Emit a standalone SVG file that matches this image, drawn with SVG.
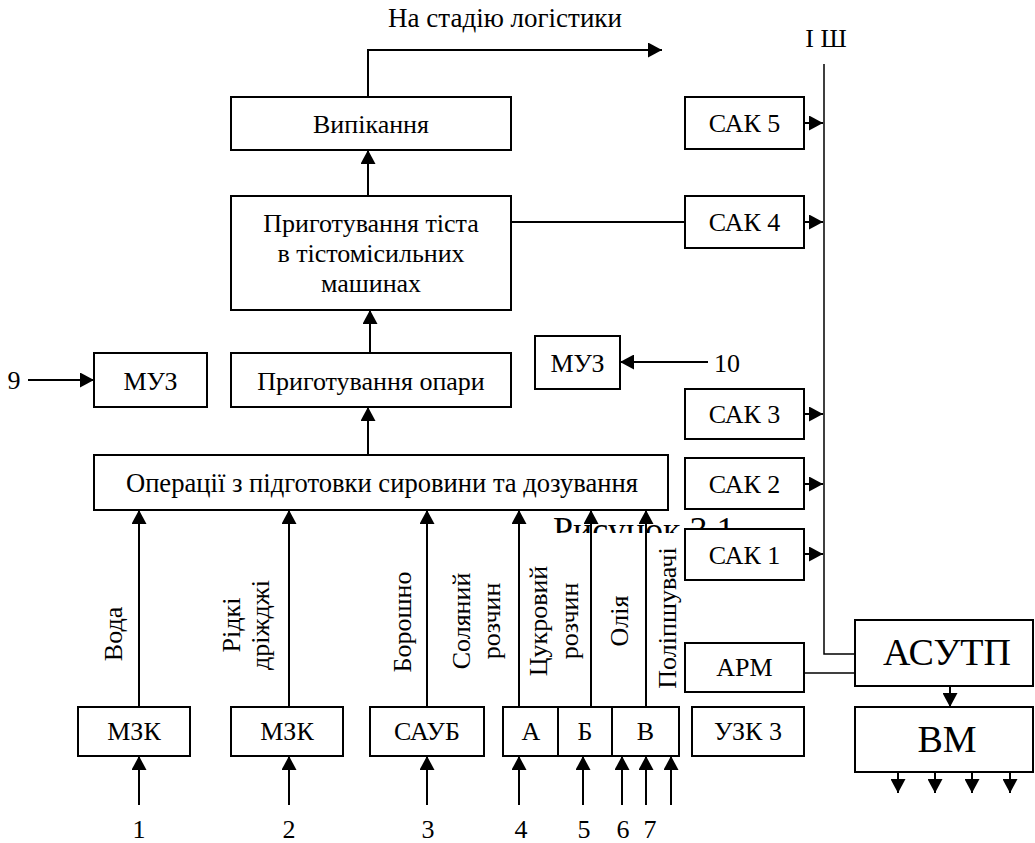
<svg xmlns="http://www.w3.org/2000/svg" width="1035" height="843" viewBox="0 0 1035 843" font-family="Liberation Serif, Times New Roman, serif">
<style>
.box{fill:#fff;stroke:#000;stroke-width:2}
.t{font-size:26px;fill:#000;text-anchor:middle}
.big{font-size:38px}
.ln{stroke:#000;stroke-width:2;fill:none}
.thin{stroke:#000;stroke-width:1.5;fill:none}
.ar{marker-end:url(#ah)}
</style>
<defs>
<marker id="ah" markerUnits="userSpaceOnUse" markerWidth="15" markerHeight="15" refX="14" refY="7.5" orient="auto">
<path d="M0,0 L14,7.5 L0,15 z" fill="#000"/>
</marker>
<clipPath id="cp"><rect x="0" y="0" width="1035" height="533"/></clipPath>
</defs>
<rect width="1035" height="843" fill="#fff"/>
<text class="t" font-family="Liberation Serif" style="font-size:36px;text-anchor:start" x="553" y="542" clip-path="url(#cp)">Рисунок 3.1</text>
<text class="t" font-family="Liberation Serif" style="font-size:27px" x="505" y="27">На стадію логістики</text>
<text class="t" font-family="Liberation Serif" x="826" y="47">І Ш</text>
<text class="t" font-family="Liberation Serif" x="14" y="389">9</text>
<text class="t" font-family="Liberation Serif" x="727" y="372">10</text>
<g id="numbers" font-family="Liberation Serif">
<text class="t" x="139" y="838">1</text>
<text class="t" x="289" y="838">2</text>
<text class="t" x="428" y="838">3</text>
<text class="t" x="521" y="838">4</text>
<text class="t" x="584" y="838">5</text>
<text class="t" x="623" y="838">6</text>
<text class="t" x="650" y="838">7</text>
</g>
<g id="flow-labels" font-family="Liberation Serif">
<text class="t" transform="translate(122,634) rotate(-90)">Вода</text>
<text class="t" transform="translate(240,625) rotate(-90)">Рідкі</text>
<text class="t" transform="translate(269,625) rotate(-90)">дріжджі</text>
<text class="t" transform="translate(411,622) rotate(-90)">Борошно</text>
<text class="t" transform="translate(470,621) rotate(-90)">Соляний</text>
<text class="t" transform="translate(500,621) rotate(-90)">розчин</text>
<text class="t" transform="translate(547,621) rotate(-90)">Цукровий</text>
<text class="t" transform="translate(578,621) rotate(-90)">розчин</text>
<text class="t" transform="translate(628,621) rotate(-90)">Олія</text>
<text class="t" transform="translate(676,618) rotate(-90)">Поліпшувачі</text>
</g>
<g id="connectors">
<path class="ln ar" d="M368,97 V50 H662"/>
<path class="ln ar" d="M368,196 V150"/>
<path class="ln ar" d="M370,353 V310"/>
<path class="ln ar" d="M368,455 V407"/>
<path class="ln" d="M511,222 H685"/>
<path class="ln ar" d="M28,380 H94"/>
<path class="ln ar" d="M708,362 H620"/>
<path class="ln ar" d="M139,707 V510"/>
<path class="ln ar" d="M289,707 V510"/>
<path class="ln ar" d="M427,707 V510"/>
<path class="ln ar" d="M519,707 V510"/>
<path class="ln ar" d="M591,707 V510"/>
<path class="ln ar" d="M646,707 V510"/>
<path class="ln ar" d="M139,805 V756"/>
<path class="ln ar" d="M289,805 V756"/>
<path class="ln ar" d="M427,805 V756"/>
<path class="ln ar" d="M519,805 V756"/>
<path class="ln ar" d="M583,805 V756"/>
<path class="ln ar" d="M622,805 V756"/>
<path class="ln ar" d="M646,805 V756"/>
<path class="ln ar" d="M671,805 V756"/>
<path class="ln ar" d="M804,123 H823"/>
<path class="ln ar" d="M804,222 H823"/>
<path class="ln ar" d="M804,414 H823"/>
<path class="ln ar" d="M804,484 H823"/>
<path class="ln ar" d="M804,554 H823"/>
<path class="thin" d="M824,64 V654 H855"/>
<path class="thin" d="M804,673 H855"/>
<path class="ln ar" d="M950,686 V707"/>
<path class="ln ar" d="M898,772 V793"/>
<path class="ln ar" d="M935,772 V793"/>
<path class="ln ar" d="M972,772 V793"/>
<path class="ln ar" d="M1010,772 V793"/>
</g>
<g id="nodes" font-family="Liberation Serif">
<g id="vypikannia"><rect class="box" x="231" y="97" width="280" height="53"/><text class="t" x="371" y="133">Випікання</text></g>
<g id="tisto"><rect class="box" x="231" y="196" width="280" height="114"/><text class="t" x="371" y="232">Приготування тіста</text><text class="t" x="371" y="262">в тістомісильних</text><text class="t" x="371" y="292">машинах</text></g>
<g id="opara"><rect class="box" x="231" y="353" width="280" height="54"/><text class="t" x="371" y="390">Приготування опари</text></g>
<g id="muz1"><rect class="box" x="94" y="353" width="113" height="54"/><text class="t" x="150.5" y="390">МУЗ</text></g>
<g id="muz2"><rect class="box" x="535" y="336" width="85" height="53"/><text class="t" x="577.5" y="372">МУЗ</text></g>
<g id="operacii"><rect class="box" x="94" y="455" width="574" height="55"/><text class="t" style="font-size:26.6px" x="382" y="492">Операції з підготовки сировини та дозування</text></g>
<g id="sak5"><rect class="box" x="685" y="97" width="119" height="52"/><text class="t" x="744.5" y="132">САК 5</text></g>
<g id="sak4"><rect class="box" x="685" y="196" width="119" height="52"/><text class="t" x="744.5" y="231">САК 4</text></g>
<g id="sak3"><rect class="box" x="685" y="389" width="119" height="50"/><text class="t" x="744.5" y="423">САК 3</text></g>
<g id="sak2"><rect class="box" x="685" y="458" width="119" height="51"/><text class="t" x="744.5" y="493">САК 2</text></g>
<g id="sak1"><rect class="box" x="685" y="529" width="119" height="51"/><text class="t" x="744.5" y="564">САК 1</text></g>
<g id="arm"><rect class="box" x="685" y="643" width="119" height="49"/><text class="t" x="744.5" y="676">АРМ</text></g>
<g id="asutp"><rect class="box" x="855" y="620" width="178" height="66"/><text class="t big" x="947" y="665">АСУТП</text></g>
<g id="vm"><rect class="box" x="855" y="707" width="178" height="65"/><text class="t big" x="947" y="752">ВМ</text></g>
<g id="mzk1"><rect class="box" x="78" y="707" width="112" height="49"/><text class="t" x="134" y="740">МЗК</text></g>
<g id="mzk2"><rect class="box" x="231" y="707" width="112" height="49"/><text class="t" x="287" y="740">МЗК</text></g>
<g id="saub"><rect class="box" x="370" y="707" width="114" height="49"/><text class="t" x="427" y="740">САУБ</text></g>
<g id="a"><rect class="box" x="503" y="707" width="55" height="49"/><text class="t" x="531" y="740">А</text></g>
<g id="b"><rect class="box" x="558" y="707" width="54" height="49"/><text class="t" x="585" y="740">Б</text></g>
<g id="v"><rect class="box" x="612" y="707" width="67" height="49"/><text class="t" x="645.5" y="740">В</text></g>
<g id="uzk3"><rect class="box" x="692" y="707" width="112" height="49"/><text class="t" x="748" y="740">УЗК 3</text></g>
</g>
</svg>
